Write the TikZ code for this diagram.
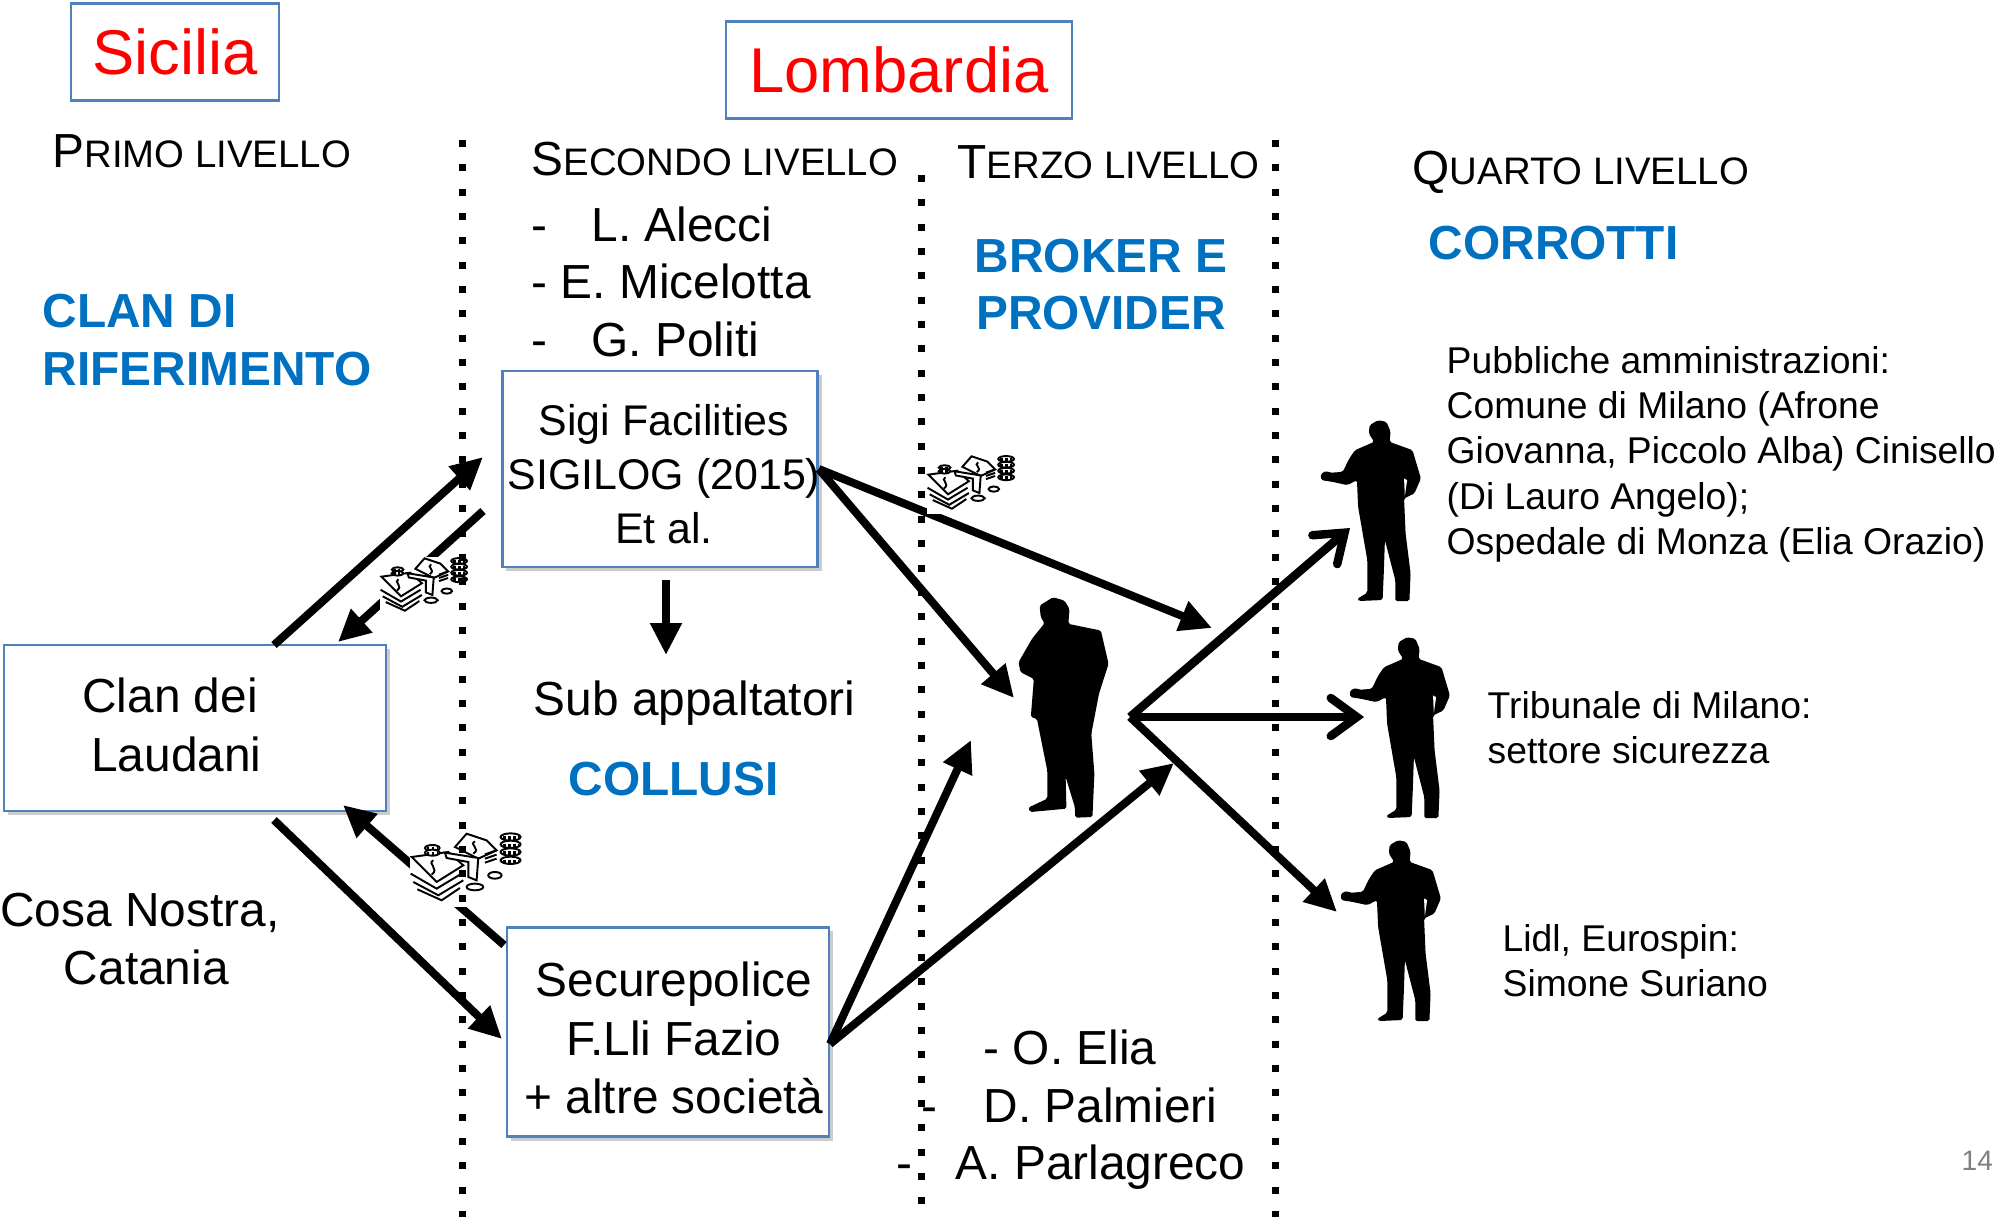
\documentclass[tikz,border=0pt]{standalone}
\usepackage{fontspec}
\setmainfont{Liberation Sans}
\usetikzlibrary{arrows.meta,shadows}
\newcommand{\maiusc}[2]{{\fontsize{13.6}{16}\selectfont #1}{\fontsize{10.9}{13}\selectfont #2}}
\definecolor{bordoblu}{HTML}{4F81BD}
\definecolor{titoloblu}{HTML}{0070C0}
\tikzset{
  regione/.style={draw=bordoblu,line width=0.7pt,inner sep=0,text=red,font=\fontsize{18}{22}\selectfont},
  scatola/.style={draw=bordoblu,line width=0.7pt,fill=white,inner sep=0,
    drop shadow={shadow xshift=0.04cm,shadow yshift=-0.04cm,opacity=0.2,fill=black}},
  testo/.style={inner sep=0,anchor=base west,font=\fontsize{13.6}{16.2}\selectfont},
  centrato/.style={inner sep=0,align=center,font=\fontsize{13.6}{16.6}\selectfont},
  titolo/.style={testo,text=titoloblu,font=\fontsize{13.6}{16.2}\bfseries\selectfont},
  piccolo/.style={inner sep=0,anchor=base west,align=left,font=\fontsize{10.6}{12.8}\selectfont},
  freccia/.style={line width=0.08cm,-{Triangle[length=0.32cm,width=0.3cm]}},
  aperta/.style={line width=0.085cm,-{Straight Barb[length=0.26cm,width=0.38cm,line cap=round]}},
  puntini/.style={line width=0.07cm,dash pattern=on 0.07cm off 0.1733cm},
  uomo/.pic={
    \fill[rounded corners=0.5pt] (0,-540) -- (-22,-525) -- (-24,-500) -- (-10,-475) -- (-60,-450) -- (-75,-425)
      -- (-92,-385) -- (-125,-382) -- (-135,-388) -- (-150,-378) -- (-148,-360) -- (-120,-355) -- (-80,-345)
      -- (-55,-360) -- (-52,-280) -- (-40,-200) -- (-28,-120) -- (-28,-22) -- (-55,-3) -- (-50,3) -- (12,0)
      -- (15,-80) -- (18,-180) -- (45,-60) -- (45,3) -- (82,3) -- (85,-80) -- (72,-200) -- (68,-305)
      -- (95,-320) -- (112,-365) -- (90,-450) -- (30,-475) -- (33,-505) -- (22,-535) -- cycle;
    \fill[white] (68,-365) -- (76,-360) -- (70,-312) -- cycle;
  },
  pensatore/.pic={
    \fill[rounded corners=0.5pt] (0,-660) -- (-35,-635) -- (-32,-600) -- (-22,-582) -- (-55,-535) -- (-90,-465)
      -- (-85,-435) -- (-50,-415) -- (-58,-300) -- (-42,-295) -- (-15,-140) -- (-15,-55) -- (-65,-28)
      -- (-60,-15) -- (35,-25) -- (33,-120) -- (57,-30) -- (58,2) -- (103,0) -- (108,-130) -- (100,-250)
      -- (120,-370) -- (145,-460) -- (125,-560) -- (40,-580) -- (43,-625) -- (30,-650) -- cycle;
  },
  soldi/.pic={
    \fill[white] (0,0) rectangle (335,225);
    \begin{scope}[line width=0.55pt]
    % banconote
    \draw (5,75) -- (115,60) -- (160,100) -- (80,150) -- cycle;
    \draw (70,85) .. controls (50,95) and (90,110) .. (65,128);
    \draw (2,125) -- (80,170) -- (155,125);
    \draw (10,150) -- (85,190) -- (160,145);
    \draw (22,172) -- (95,205) -- (150,168);
    \draw[fill=white] (135,45) -- (170,5) -- (230,25) -- (260,55) -- (205,80) -- cycle;
    \draw (195,28) .. controls (175,38) and (215,50) .. (190,65);
    \draw[fill=white] (105,62) -- (205,78) -- (200,145) -- (175,135) -- (175,90) -- (110,78) -- cycle;
    \foreach \yy in {55,68,80} {
        \draw (225,\yy+12) -- (260,\yy);
    }
    % monete
    \foreach \yy in {15,37,60,85} {
        \draw[fill=white] (302,\yy) ellipse (30 and 11);
        \draw[line width=1pt,dash pattern=on 0.7pt off 0.7pt] (280,\yy+3) -- (325,\yy+3);
    }
    \foreach \yy in {48,62} {
        \draw[fill=white] (67,\yy) ellipse (22 and 9);
        \draw[line width=1pt,dash pattern=on 0.7pt off 0.7pt] (50,\yy+3) -- (85,\yy+3);
    }
    \draw (255,130) ellipse (20 and 10);
    \draw (195,165) ellipse (25 and 10);
    \end{scope}
  }
}
\begin{document}
\begin{tikzpicture}[x=0.01cm,y=-0.01cm]
\useasboundingbox (0,0) rectangle (1998,1217);

% regioni
\node[regione,minimum width=2.08cm,minimum height=0.97cm] (sicilia) at (175,52) {\raisebox{-0.02cm}{Sicilia}};
\node[regione,minimum width=3.46cm,minimum height=0.97cm] (lombardia) at (899,70) {\raisebox{-0.01cm}{Lombardia}};

% livelli
\node[testo] (primo) at (52,167) {\maiusc{P}{RIMO LIVELLO}};
\node[testo] (secondo) at (531,175) {\maiusc{S}{ECONDO LIVELLO}};
\node[testo] (terzo) at (957,178) {\maiusc{T}{ERZO LIVELLO}};
\node[testo] (quarto) at (1412,184) {\maiusc{Q}{UARTO LIVELLO}};

% titoli
\node[titolo] (clandi) at (42,327) {CLAN DI};
\node[titolo] (riferimento) at (42,385) {RIFERIMENTO};
\node[titolo,anchor=base] (broker) at (1101,272) {BROKER E};
\node[titolo,anchor=base] (provider) at (1101,329) {PROVIDER};
\node[titolo] (corrotti) at (1428,259) {CORROTTI};
\node[titolo] (collusi) at (568,795) {COLLUSI};

% nomi
\node[testo] (alecci) at (531,241) {-\hspace{0.44cm}L. Alecci};
\node[testo] (micelotta) at (531,298) {- E. Micelotta};
\node[testo] (politi) at (531,356) {-\hspace{0.44cm}G. Politi};
\node[testo] (elia) at (983,1064) {- O. Elia};
\node[testo] (palmieri) at (921,1122) {-\hspace{0.46cm}D. Palmieri};
\node[testo] (parlagreco) at (896,1179) {-\hspace{0.43cm}A. Parlagreco};

% scatole
\node[scatola,minimum width=3.15cm,minimum height=1.96cm] (sigi) at (660,469) {};
\node[scatola,minimum width=3.82cm,minimum height=1.66cm] (clan) at (195,728) {};
\node[scatola,minimum width=3.22cm,minimum height=2.09cm] (secure) at (668,1032) {};
\node[centrato,font=\fontsize{12.2}{15.4}\selectfont] (sigitesto) at (664,474) {Sigi Facilities\\SIGILOG (2015)\\Et al.};
\node[centrato] (clantesto) at (170,725) {Clan dei\\\hspace*{0.128cm}Laudani};
\node[centrato] (securetesto) at (674,1038) {Securepolice\\F.Lli Fazio\\+ altre società};
\node[testo] (sub) at (533,715) {Sub appaltatori};
\node[centrato] (cosa) at (140,939) {Cosa Nostra,\\\hspace*{0.128cm}Catania};

% uomini
\pic[xscale=0.383,yscale=0.333] (capo) at (1053,817) {pensatore};
\pic[xscale=0.383,yscale=0.333] (uomoA) at (1378,600) {uomo};
\pic[xscale=0.383,yscale=0.333] (uomoB) at (1407,817) {uomo};
\pic[xscale=0.383,yscale=0.333] (uomoC) at (1398,1020) {uomo};

% punti delle frecce
\coordinate (clansu) at (274,645);
\coordinate (clanarr) at (338,642);
\coordinate (clangiu) at (274,820);
\coordinate (clanrit) at (343,805);
\coordinate (sigisu) at (483,457);
\coordinate (sigiarr) at (483,511);
\coordinate (sigigiu) at (666,580);
\coordinate (subsu) at (666,655);
\coordinate (securesx) at (502,1039);
\coordinate (securerit) at (504,945);
\coordinate (securedx) at (830,1044);
\coordinate (perno) at (1130,717);
\coordinate (caposx) at (1014,698);
\coordinate (caposu) at (1212,628);
\coordinate (capobasso) at (971,740);
\coordinate (capodx) at (1174,763);
\coordinate (versoA) at (1350,528);
\coordinate (versoB) at (1364,717);
\coordinate (versoC) at (1337,912);

% frecce
\draw[freccia] (clansu) -- (sigisu);
\draw[freccia] (sigiarr) -- (clanarr);
\draw[freccia] (clangiu) -- (securesx);
\draw[freccia] (securerit) -- (clanrit);
\draw[freccia] (sigigiu) -- (subsu);
\draw[freccia] (sigi.east) -- (caposx);
\draw[freccia] (sigi.east) -- (caposu);
\draw[freccia] (securedx) -- (capobasso);
\draw[freccia] (securedx) -- (capodx);
\draw[aperta] (perno) -- (versoA);
\draw[aperta] (perno) -- (versoB);
\draw[freccia] (perno) -- (versoC);

% soldi
\pic[scale=0.262] (soldiA) at (380,557) {soldi};
\pic[scale=0.333] (soldiB) at (410,832) {soldi};
\pic[scale=0.262] (soldiC) at (927,455) {soldi};

% linee
\foreach \x/\yinizio in {462/140,921/175,1275/140} {
    \draw[puntini] (\x,\yinizio) -- (\x,1217);
}

% amministrazioni
\node[piccolo] (pubbliche) at (1446,554) {Pubbliche amministrazioni:\\Comune di Milano (Afrone\\Giovanna, Piccolo Alba) Cinisello\\(Di Lauro Angelo);\\Ospedale di Monza (Elia Orazio)};
\node[piccolo] (tribunale) at (1487,763) {Tribunale di Milano:\\settore sicurezza};
\node[piccolo] (lidl) at (1502,996) {Lidl, Eurospin:\\Simone Suriano};
\node[inner sep=0,anchor=base west,text=gray,font=\fontsize{8}{10}\selectfont] (pagina) at (1961,1170) {14};
\end{tikzpicture}
\end{document}
